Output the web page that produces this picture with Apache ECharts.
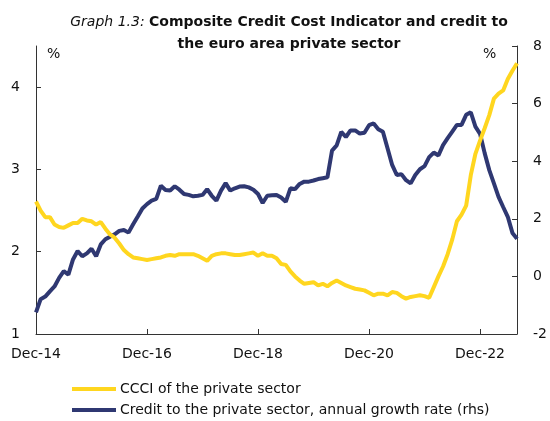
<!DOCTYPE html>
<html>
<head>
<meta charset="utf-8">
<script src="https://cdn.jsdelivr.net/npm/echarts@6/dist/echarts.min.js"></script>
<style>
  html, body { margin: 0; padding: 0; background: #fff; }
  #chart { width: 550px; height: 421px; }
</style>
</head>
<body>
<div id="chart"></div>
<script>
var FONT = "DejaVu Sans";
var YELLOW = "#FFD61F";
var NAVY = "#2F3872";

// monthly, Dec-14 .. Jul-23
var startYear = 2014;
var startMonth = 11; // December (0-based)
var monthNames = ["Jan", "Feb", "Mar", "Apr", "May", "Jun", "Jul", "Aug", "Sep", "Oct", "Nov", "Dec"];

// CCCI of the private sector (%, lhs)
var ccci = [
  2.61, 2.50, 2.42, 2.42, 2.33, 2.30, 2.29, 2.32, 2.35, 2.35,
  2.40, 2.38, 2.37, 2.33, 2.36, 2.28, 2.21, 2.17, 2.10, 2.02,
  1.97, 1.93, 1.92, 1.91, 1.90, 1.91, 1.92, 1.93, 1.95, 1.96,
  1.95, 1.97, 1.97, 1.97, 1.97, 1.95, 1.92, 1.89, 1.95, 1.97,
  1.98, 1.98, 1.97, 1.96, 1.96, 1.97, 1.98, 1.99, 1.95, 1.98,
  1.95, 1.95, 1.92, 1.85, 1.84, 1.76, 1.70, 1.65, 1.61, 1.62,
  1.63, 1.59, 1.61, 1.58, 1.62, 1.65, 1.62, 1.59, 1.57, 1.55,
  1.54, 1.53, 1.50, 1.47, 1.49, 1.49, 1.47, 1.51, 1.50, 1.46,
  1.43, 1.45, 1.46, 1.47, 1.46, 1.44, 1.57, 1.70, 1.82, 1.97,
  2.15, 2.37, 2.45, 2.56, 2.93, 3.19, 3.35, 3.50, 3.66, 3.86,
  3.92, 3.96, 4.10, 4.20, 4.29
];

// Credit to the private sector, annual growth rate (%, rhs)
var credit = [
  -1.25, -0.79, -0.70, -0.52, -0.35, -0.05, 0.18, 0.06, 0.59, 0.88,
  0.70, 0.80, 0.96, 0.70, 1.11, 1.29, 1.38, 1.46, 1.58, 1.61,
  1.52, 1.81, 2.08, 2.36, 2.51, 2.63, 2.69, 3.15, 3.00, 2.98,
  3.13, 3.01, 2.86, 2.83, 2.78, 2.80, 2.83, 3.03, 2.80, 2.63,
  2.98, 3.24, 2.98, 3.06, 3.12, 3.13, 3.09, 3.01, 2.86, 2.55,
  2.80, 2.82, 2.83, 2.74, 2.59, 3.06, 3.03, 3.21, 3.29, 3.29,
  3.33, 3.38, 3.41, 3.44, 4.37, 4.55, 5.02, 4.84, 5.07, 5.07,
  4.96, 4.99, 5.25, 5.31, 5.11, 5.02, 4.45, 3.87, 3.52, 3.55,
  3.34, 3.23, 3.52, 3.72, 3.83, 4.14, 4.30, 4.20, 4.56, 4.80,
  5.03, 5.26, 5.26, 5.61, 5.70, 5.20, 4.95, 4.28, 3.69, 3.23,
  2.76, 2.41, 2.07, 1.51, 1.31
];

var leftTicks = [1, 2, 3, 4];
var rightTicks = [-2, 0, 2, 4, 6, 8];

var months = ccci.map(function (v, i) {
  var m = startMonth + i;
  var y = startYear + Math.floor(m / 12);
  return monthNames[m % 12] + "-" + String(y).slice(2);
});

var everyTwoYears = function (idx) {
  return idx % 24 === 0;
};

var axisLine = { show: true, onZero: false, lineStyle: { color: "#333", width: 1 } };
var axisTick = { show: true, inside: true, length: 5, lineStyle: { color: "#333" } };
var labelStyle = { color: "#111", fontSize: 14, fontFamily: FONT };

var chart = echarts.init(document.getElementById("chart"), null, { renderer: "canvas" });

chart.setOption({
  backgroundColor: "#fff",
  animation: false,
  title: {
    text: "{i|Graph 1.3: }{b|Composite Credit Cost Indicator and credit to}\n{b|the euro area private sector}",
    left: 284,
    top: 6,
    textAlign: "center",
    textStyle: {
      lineHeight: 22,
      fontWeight: "normal",
      rich: {
        i: { fontStyle: "italic", fontWeight: "normal", fontSize: 14, fontFamily: FONT, color: "#111", lineHeight: 22 },
        b: { fontWeight: "bold", fontSize: 14, fontFamily: FONT, color: "#111", lineHeight: 22 }
      }
    }
  },
  grid: { left: 36, right: 28, top: 46, bottom: 87, containLabel: false },
  legend: {
    orient: "vertical",
    left: 67,
    top: 377,
    height: 50,
    icon: "rect",
    itemWidth: 44,
    itemHeight: 4,
    itemGap: 7,
    data: ["CCCI of the private sector", "Credit to the private sector, annual growth rate (rhs)"],
    textStyle: { color: "#111", fontSize: 14, fontFamily: FONT, padding: [0, 0, 0, -1] }
  },
  graphic: [
    { type: "text", left: 47, top: 47, style: { text: "%", fontSize: 14, fontFamily: FONT, fill: "#111" } },
    { type: "text", left: 483, top: 47, style: { text: "%", fontSize: 14, fontFamily: FONT, fill: "#111" } }
  ],
  xAxis: {
    type: "category",
    data: months,
    boundaryGap: false,
    axisLine: axisLine,
    axisTick: Object.assign({}, axisTick, { interval: everyTwoYears }),
    axisLabel: Object.assign({}, labelStyle, { interval: everyTwoYears, margin: 13 }),
    splitLine: { show: false }
  },
  yAxis: [
    {
      type: "value",
      position: "left",
      min: 1,
      max: 4.5,
      interval: 1,
      axisLine: axisLine,
      axisTick: Object.assign({}, axisTick, { customValues: leftTicks }),
      axisLabel: Object.assign({}, labelStyle, { customValues: leftTicks, margin: 16 }),
      splitLine: { show: false }
    },
    {
      type: "value",
      position: "right",
      min: -2,
      max: 8,
      interval: 2,
      axisLine: axisLine,
      axisTick: Object.assign({}, axisTick, { customValues: rightTicks }),
      axisLabel: Object.assign({}, labelStyle, { customValues: rightTicks, margin: 16 }),
      splitLine: { show: false }
    }
  ],
  series: [
    {
      name: "Credit to the private sector, annual growth rate (rhs)",
      type: "line",
      yAxisIndex: 1,
      data: credit,
      showSymbol: false,
      symbol: "none",
      lineStyle: { color: NAVY, width: 4 },
      itemStyle: { color: NAVY },
      z: 2
    },
    {
      name: "CCCI of the private sector",
      type: "line",
      yAxisIndex: 0,
      data: ccci,
      showSymbol: false,
      symbol: "none",
      lineStyle: { color: YELLOW, width: 4 },
      itemStyle: { color: YELLOW },
      z: 3
    }
  ]
});
</script>
</body>
</html>
